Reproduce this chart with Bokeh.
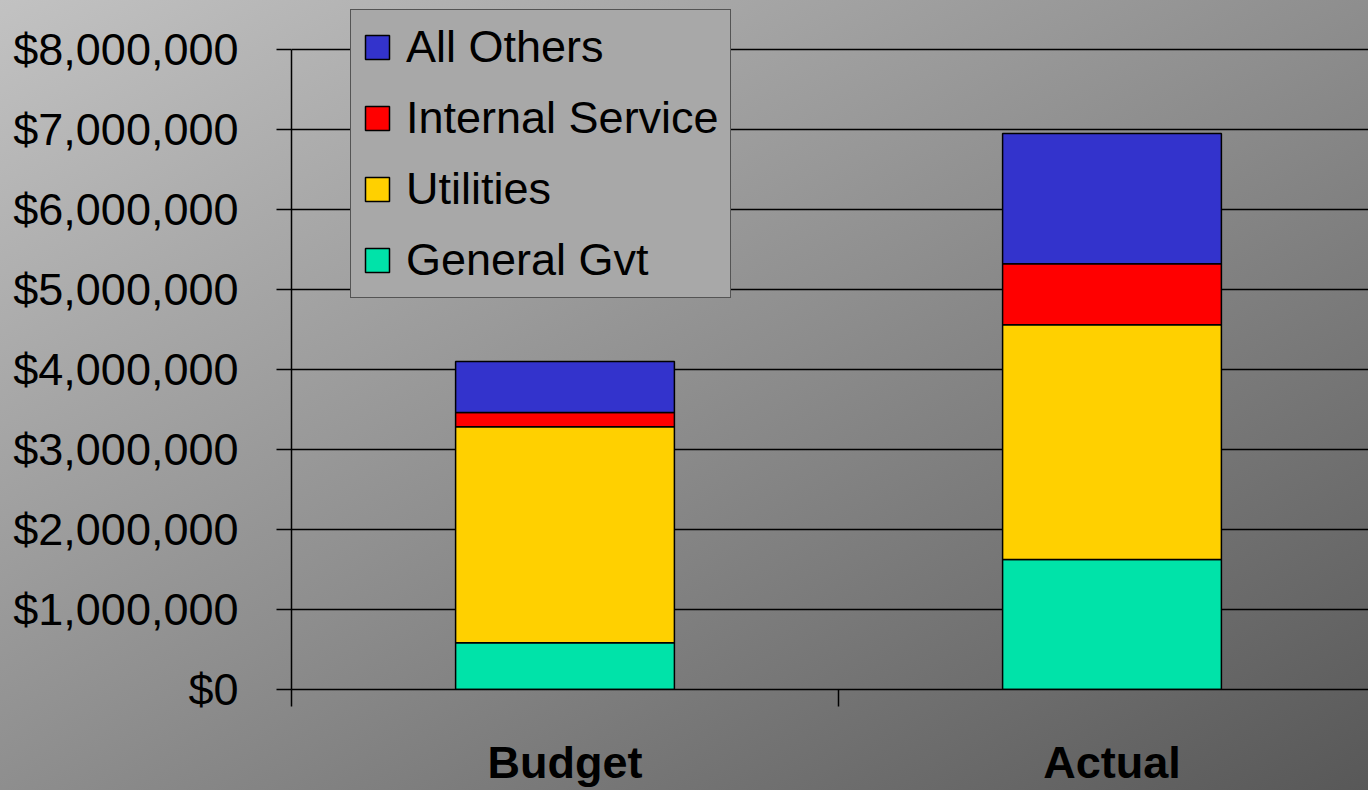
from bokeh.plotting import figure
from bokeh.models import (ColumnDataSource, Range1d, FixedTicker, NumeralTickFormatter,
                          Legend, LegendItem)
from bokeh.embed import file_html
from bokeh.resources import INLINE

categories = ["Budget", "Actual"]
general_gvt = [585000, 1625000]
utilities = [2700000, 2935000]
internal_service = [178000, 762000]
all_others = [637000, 1628000]
series_names = ["General Gvt", "Utilities", "Internal Service", "All Others"]
series_colors = ["#00E3A9", "#FFD000", "#FF0000", "#3333CC"]
y_ticks = [0, 1000000, 2000000, 3000000, 4000000, 5000000, 6000000, 7000000, 8000000]

xpos = [i + 0.5 for i in range(len(categories))]
source = ColumnDataSource(dict(x=xpos, cat=categories,
                               general=general_gvt, util=utilities,
                               internal=internal_service, others=all_others))

FONT = "Liberation Sans"

# frame: left 291, top 4, bottom 689, right edge of the page
p = figure(width=1368, height=790, output_backend="svg", toolbar_location=None,
           x_range=Range1d(0, 1077 / 547), y_range=Range1d(0, 8000000 * 685 / 640),
           min_border_left=291, min_border_right=0, min_border_top=4, min_border_bottom=101)

p.styles = {"background": "linear-gradient(to bottom right, #c2c2c2 0%, #8e8e8e 50%, #585858 100%)"}
p.border_fill_alpha = 0
p.background_fill_alpha = 0
p.outline_line_color = None

renderers = p.vbar_stack(["general", "util", "internal", "others"], x="x", width=0.4,
                         source=source, color=series_colors,
                         line_color="black", line_width=1.5)

# axes
p.yaxis.ticker = FixedTicker(ticks=y_ticks)
p.yaxis.bounds = (0, 8000000)
p.yaxis.formatter = NumeralTickFormatter(format="$0,0")
p.yaxis.major_label_text_font = FONT
p.yaxis.major_label_text_font_size = "45px"
p.yaxis.major_label_text_color = "black"
p.yaxis.major_tick_out = 15
p.yaxis.major_tick_in = 0
p.yaxis.minor_tick_line_color = None
p.yaxis.major_tick_line_color = "black"
p.yaxis.major_tick_line_width = 1.5
p.yaxis.axis_line_color = "black"
p.yaxis.axis_line_width = 1.5
p.yaxis.major_label_standoff = 38

p.xaxis.ticker = FixedTicker(ticks=xpos, minor_ticks=[0, 1, 2])
p.xaxis.major_label_overrides = {x: c for x, c in zip(xpos, categories)}
p.xaxis.major_label_text_font = FONT
p.xaxis.major_label_text_font_style = "bold"
p.xaxis.major_label_text_font_size = "45px"
p.xaxis.major_label_text_color = "black"
p.xaxis.major_tick_out = 0
p.xaxis.major_tick_in = 0
p.xaxis.minor_tick_out = 17
p.xaxis.minor_tick_in = 0
p.xaxis.minor_tick_line_color = "black"
p.xaxis.minor_tick_line_width = 1.5
p.xaxis.axis_line_color = "black"
p.xaxis.axis_line_width = 1.5
p.xaxis.major_label_standoff = 30

p.xgrid.grid_line_color = None
p.ygrid.grid_line_color = "black"
p.ygrid.grid_line_width = 1.5

items = [LegendItem(label=n, renderers=[r]) for n, r in zip(series_names, renderers)]
items.reverse()
legend = Legend(items=items, location=(59, 391))
legend.label_text_font = FONT
legend.label_text_font_size = "45px"
legend.label_text_color = "black"
legend.glyph_width = 30
legend.glyph_height = 30
legend.label_standoff = 14
legend.spacing = 19
legend.padding = 11
legend.margin = 0
legend.border_line_color = "black"
legend.border_line_width = 1.5
legend.background_fill_color = "#a8a8a8"
legend.background_fill_alpha = 1.0
p.add_layout(legend, "center")

open("out.html", "w").write(file_html(p, INLINE))
